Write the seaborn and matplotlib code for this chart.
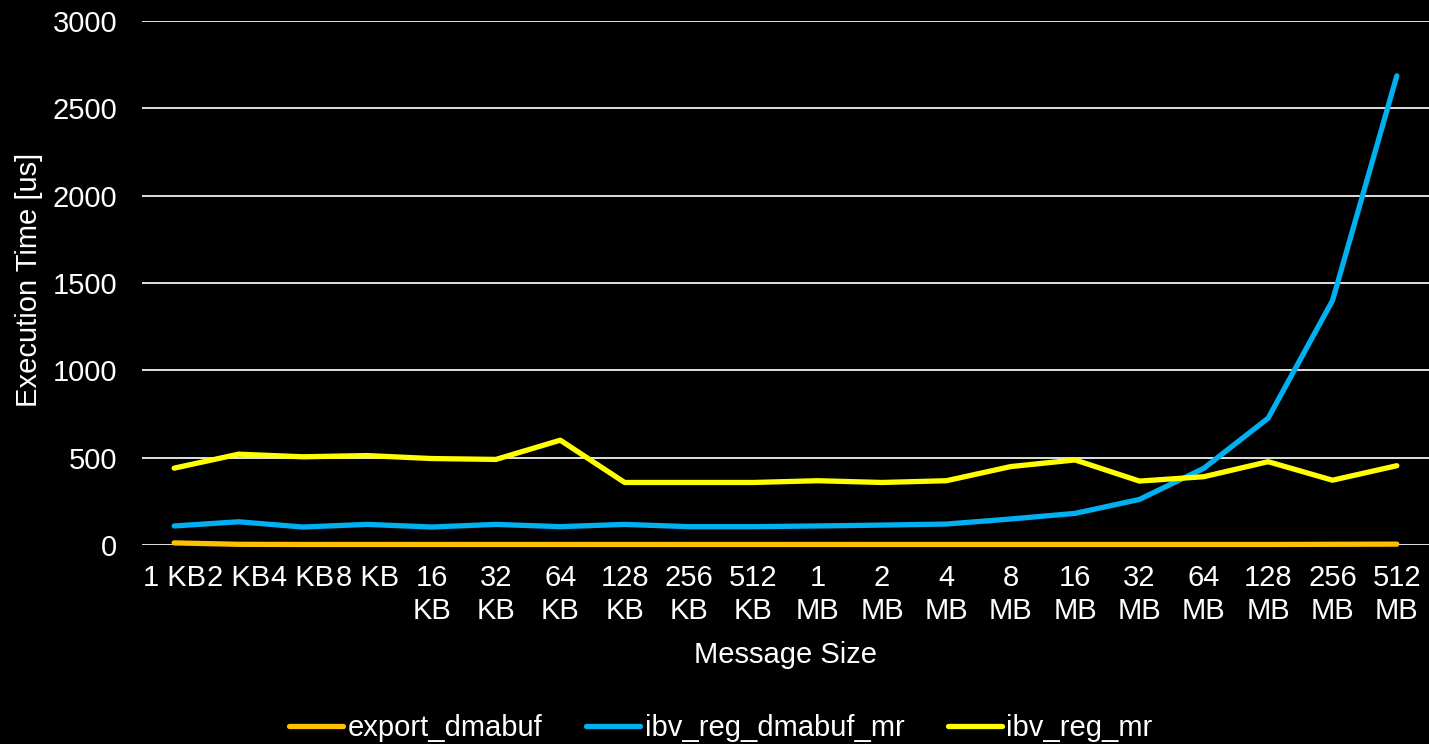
import numpy as np
import pandas as pd
import matplotlib
matplotlib.use("Agg")
import matplotlib.pyplot as plt
import seaborn as sns

sizes = ["1 KB", "2 KB", "4 KB", "8 KB", "16 KB", "32 KB", "64 KB", "128 KB",
         "256 KB", "512 KB", "1 MB", "2 MB", "4 MB", "8 MB", "16 MB", "32 MB",
         "64 MB", "128 MB", "256 MB", "512 MB"]
tick_labels = ["1 KB", "2 KB", "4 KB", "8 KB", "16\nKB", "32\nKB", "64\nKB",
               "128\nKB", "256\nKB", "512\nKB", "1\nMB", "2\nMB", "4\nMB",
               "8\nMB", "16\nMB", "32\nMB", "64\nMB", "128\nMB", "256\nMB",
               "512\nMB"]
export_dmabuf = [12, 4, 3, 3, 3, 3, 3, 3, 3, 3, 3, 3, 3, 3, 3, 3, 3, 3, 4, 5]
ibv_reg_dmabuf_mr = [109, 133, 103, 118, 103, 118, 105, 118, 105, 105,
                     109, 114, 120, 149, 181, 261, 439, 726, 1399, 2686]
ibv_reg_mr = [440, 520, 505, 512, 495, 490, 600, 358, 358, 358,
              368, 358, 368, 449, 487, 366, 391, 477, 371, 454]
series_names = ["export_dmabuf", "ibv_reg_dmabuf_mr", "ibv_reg_mr"]
colors = ["#FFC000", "#00B0F0", "#FFFF00"]

df = pd.concat([
    pd.DataFrame({"pos": np.arange(len(sizes)), "size": sizes,
                  "value": vals, "series": name})
    for name, vals in zip(series_names,
                          [export_dmabuf, ibv_reg_dmabuf_mr, ibv_reg_mr])
])

sns.set_theme(style="dark")
plt.rcParams["font.family"] = ["Liberation Sans", "DejaVu Sans"]

FS = 21
LW = 3.8
W, H = 1429, 744
fig = plt.figure(figsize=(W / 100, H / 100), dpi=100, facecolor="black")
ax = fig.add_axes([142 / W, (H - 545) / H, (1429 - 142) / W, (545 - 21) / H])
ax.set_facecolor("black")

sns.lineplot(data=df, x="pos", y="value", hue="series",
             palette=dict(zip(series_names, colors)), linewidth=LW,
             ax=ax, legend=False, solid_capstyle="round", zorder=3)
for line in ax.lines:
    line.set_clip_on(False)

ax.set_xlim(-0.5, len(sizes) - 0.5)
ax.set_ylim(0, 3000)
ax.set_yticks([0, 500, 1000, 1500, 2000, 2500, 3000])
ax.set_xticks(np.arange(len(sizes)))
ax.set_xticklabels(tick_labels)
ax.grid(axis="y", color="#F2F2F2", linewidth=1.3, zorder=0)
ax.grid(axis="x", visible=False)
for s in ax.spines.values():
    s.set_visible(False)
ax.tick_params(axis="x", colors="white", labelsize=FS, length=0, pad=14)
ax.tick_params(axis="y", colors="white", labelsize=FS, length=0, pad=18)
for t in ax.get_xticklabels():
    t.set_linespacing(1.2)
ax.set_xlabel("")
ax.set_ylabel("")

fig.text(785 / W, 1 - 655 / H, "Message Size", color="white", fontsize=FS,
         ha="center", va="center")
fig.text(29 / W, 1 - 280 / H, "Execution Time [us]", color="white",
         fontsize=FS, rotation=90, ha="center", va="center")

from matplotlib.lines import Line2D
handles = [Line2D([0], [0], color=c, linewidth=LW, solid_capstyle="round")
           for c in colors]
fig.legend(handles, series_names, loc="center", bbox_to_anchor=(721 / W, 1 - 728 / H),
           ncol=3, frameon=False, fontsize=FS, labelcolor="white",
           handlelength=1.85, handletextpad=0.15, columnspacing=1.5,
           borderpad=0, borderaxespad=0)

fig.savefig("out.png", dpi=100, facecolor="black")
